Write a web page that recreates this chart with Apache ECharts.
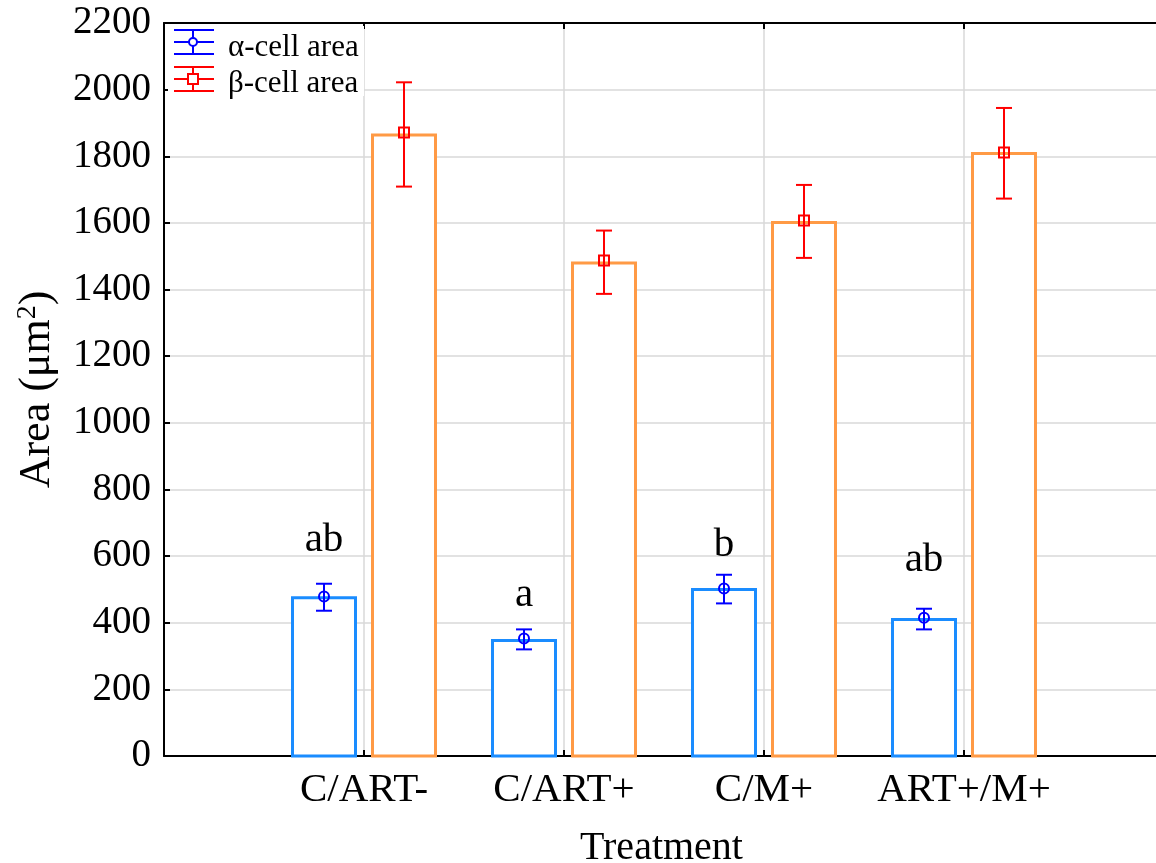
<!DOCTYPE html>
<html>
<head>
<meta charset="utf-8">
<script src="https://cdn.jsdelivr.net/npm/echarts@6/dist/echarts.min.js"></script>
<style>
  html, body { margin: 0; padding: 0; background: #fff; }
  #chart { width: 1156px; height: 863px; }
</style>
</head>
<body>
<div id="chart"></div>
<script>
// Islet cell area by treatment: bars + mean ± error, letters = significance groups
var categories = ['C/ART-', 'C/ART+', 'C/M+', 'ART+/M+'];

var alphaBar  = [475, 347, 500, 410];
var alphaMean = [479, 353, 503, 415];
var alphaLow  = [436, 320, 458, 380];
var alphaHigh = [517, 380, 544, 442];

var betaBar  = [1864, 1480, 1601, 1808];
var betaMean = [1871, 1487, 1607, 1811];
var betaLow  = [1709, 1387, 1495, 1673];
var betaHigh = [2022, 1577, 1714, 1945];

var letters = ['ab', 'a', 'b', 'ab'];
var letterY = [586, 421, 571, 526];

var yTicks = { min: 0, max: 2200, step: 200 };

var FONT = '"Liberation Serif", "Times New Roman", serif';
var ALPHA_BAR = '#1a8cff', BETA_BAR = '#ff9a45';
var ALPHA_ERR = '#0000ff', BETA_ERR = '#ff0000';
var OFFSET = 0.2; // in category units (1 unit = spacing between treatments)
var X_MAX = 4.975; // plot runs off the right edge like the original

function rows(bar, mean, lo, hi) {
    return categories.map(function(c, i) { return [i, bar[i], mean[i], lo[i], hi[i]]; });
}

function barItem(offset, color) {
    return function(params, api) {
        var x = api.value(0) + 1 + offset;
        var top = api.coord([x, api.value(1)]);
        var base = api.coord([x, 0]);
        var w = 63;
        return {
            type: 'rect',
            shape: { x: top[0] - w / 2, y: top[1], width: w, height: base[1] - top[1] },
            style: { fill: '#fff', stroke: color, lineWidth: 3 }
        };
    };
}

function errItem(offset, color, marker) {
    return function(params, api) {
        var x = api.value(0) + 1 + offset;
        var m = api.coord([x, api.value(2)]);
        var lo = api.coord([x, api.value(3)]);
        var hi = api.coord([x, api.value(4)]);
        var cap = 8;
        var ls = { stroke: color, lineWidth: 2 };
        var kids = [
            { type: 'line', shape: { x1: m[0], y1: lo[1], x2: m[0], y2: hi[1] }, style: ls },
            { type: 'line', shape: { x1: m[0] - cap, y1: lo[1], x2: m[0] + cap, y2: lo[1] }, style: ls },
            { type: 'line', shape: { x1: m[0] - cap, y1: hi[1], x2: m[0] + cap, y2: hi[1] }, style: ls }
        ];
        if (marker === 'circle') {
            kids.push({ type: 'circle', shape: { cx: m[0], cy: m[1], r: 5 }, style: { fill: 'none', stroke: color, lineWidth: 2 } });
        } else {
            kids.push({ type: 'rect', shape: { x: m[0] - 5, y: m[1] - 5, width: 10, height: 10 }, style: { fill: 'none', stroke: color, lineWidth: 2 } });
        }
        return { type: 'group', children: kids };
    };
}

function letterItem(params, api) {
    var p = api.coord([api.value(0) + 1 - OFFSET, api.value(1)]);
    return {
        type: 'text',
        x: p[0], y: p[1],
        style: { text: letters[api.value(0)], font: '41px ' + FONT, fill: '#000', align: 'center', verticalAlign: 'bottom' }
    };
}

// legend drawn by hand: error-bar glyphs like the original software
function legendGlyph(y, color, marker) {
    var ls = { stroke: color, lineWidth: 2 };
    var g = [
        { type: 'line', shape: { x1: 174, y1: y - 12, x2: 214, y2: y - 12 }, style: ls, z: 101 },
        { type: 'line', shape: { x1: 174, y1: y, x2: 214, y2: y }, style: ls, z: 101 },
        { type: 'line', shape: { x1: 174, y1: y + 12, x2: 214, y2: y + 12 }, style: ls, z: 101 },
        { type: 'line', shape: { x1: 193, y1: y - 12, x2: 193, y2: y + 12 }, style: ls, z: 101 }
    ];
    if (marker === 'circle') {
        g.push({ type: 'circle', shape: { cx: 193, cy: y, r: 4 }, style: { fill: '#fff', stroke: color, lineWidth: 2 }, z: 102 });
    } else {
        g.push({ type: 'rect', shape: { x: 188, y: y - 5, width: 10, height: 10 }, style: { fill: '#fff', stroke: color, lineWidth: 2 }, z: 102 });
    }
    return g;
}

var chart = echarts.init(document.getElementById('chart'), null, { renderer: 'canvas' });

var axisLine = { show: true, lineStyle: { color: '#000', width: 2 } };
var splitLine = { show: true, showMaxLine: false, lineStyle: { color: '#d9d9d9', width: 1.5 } };

chart.setOption({
    animation: false,
    backgroundColor: '#fff',
    grid: { left: 164, top: 23, right: -3, height: 733, outerBoundsMode: 'none', containLabel: false },
    xAxis: [{
        type: 'value', min: 0, max: X_MAX, interval: 1, position: 'bottom',
        axisLine: axisLine,
        axisTick: { show: true, inside: true, length: 6, lineStyle: { color: '#000', width: 2 } },
        axisLabel: {
            fontFamily: FONT, fontSize: 41, color: '#000', margin: 14,
            formatter: function(v) { return Number.isInteger(v) && v >= 1 ? categories[v - 1] : ''; }
        },
        splitLine: splitLine,
        name: 'Treatment', nameLocation: 'middle', nameGap: 72,
        nameTextStyle: { fontFamily: FONT, fontSize: 40, color: '#000' }
    }, {
        type: 'value', min: 0, max: X_MAX, interval: 1, position: 'top',
        axisLine: axisLine,
        axisTick: { show: true, inside: true, length: 6, lineStyle: { color: '#000', width: 2 } },
        axisLabel: { show: false },
        splitLine: { show: false }
    }],
    yAxis: {
        type: 'value', min: yTicks.min, max: yTicks.max, interval: yTicks.step,
        axisLine: axisLine,
        axisTick: { show: true, inside: true, length: 6, lineStyle: { color: '#000', width: 2 } },
        axisLabel: { fontFamily: FONT, fontSize: 39, color: '#000', margin: 13, formatter: function(v) { return String(v); } },
        splitLine: splitLine,
        name: 'Area (μm{sup|2})', nameLocation: 'middle', nameGap: 104, nameRotate: 90,
        nameTextStyle: {
            fontFamily: FONT, fontSize: 44, color: '#000',
            rich: { sup: { fontFamily: FONT, fontSize: 28, color: '#000', padding: [0, 0, 18, 0] } }
        }
    },
    series: [
        { type: 'custom', name: 'α bars', renderItem: barItem(-OFFSET, ALPHA_BAR), data: rows(alphaBar, alphaMean, alphaLow, alphaHigh), z: 2 },
        { type: 'custom', name: 'β bars', renderItem: barItem(OFFSET, BETA_BAR), data: rows(betaBar, betaMean, betaLow, betaHigh), z: 2 },
        { type: 'custom', name: 'α-cell area', renderItem: errItem(-OFFSET, ALPHA_ERR, 'circle'), data: rows(alphaBar, alphaMean, alphaLow, alphaHigh), z: 3 },
        { type: 'custom', name: 'β-cell area', renderItem: errItem(OFFSET, BETA_ERR, 'square'), data: rows(betaBar, betaMean, betaLow, betaHigh), z: 3 },
        { type: 'custom', name: 'letters', renderItem: letterItem, data: categories.map(function(c, i) { return [i, letterY[i]]; }), z: 4 }
    ],
    graphic: [
        { type: 'rect', shape: { x: 168, y: 26, width: 196, height: 70 }, style: { fill: '#fff' }, z: 100 }
    ].concat(legendGlyph(42, ALPHA_ERR, 'circle')).concat(legendGlyph(79, BETA_ERR, 'square')).concat([
        { type: 'text', x: 228, y: 48, style: { text: 'α-cell area', font: '31px ' + FONT, fill: '#000', verticalAlign: 'middle' }, z: 101 },
        { type: 'text', x: 228, y: 84, style: { text: 'β-cell area', font: '31px ' + FONT, fill: '#000', verticalAlign: 'middle' }, z: 101 }
    ])
});
</script>
</body>
</html>
